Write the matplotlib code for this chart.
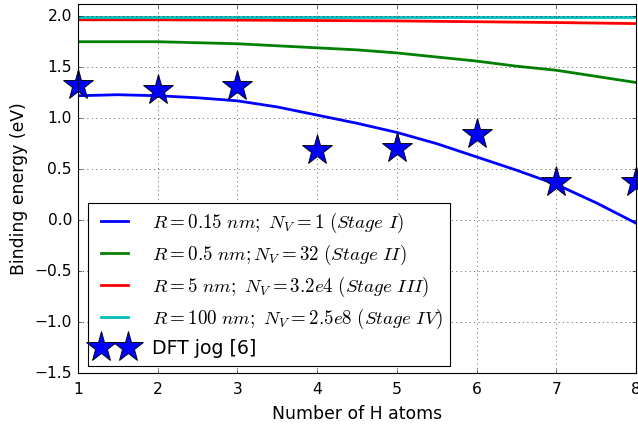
import matplotlib
matplotlib.use("Agg")
import matplotlib.pyplot as plt

plt.style.use('classic')

# Data
x_curve = [1, 1.5, 2, 2.5, 3, 3.5, 4, 4.5, 5, 5.5, 6, 6.5, 7, 7.5, 8]
blue = [1.22, 1.23, 1.22, 1.20, 1.17, 1.11, 1.03, 0.95, 0.86, 0.75, 0.62, 0.49, 0.35, 0.17, -0.03]
green = [1.75, 1.75, 1.75, 1.74, 1.73, 1.71, 1.69, 1.67, 1.64, 1.60, 1.56, 1.51, 1.47, 1.41, 1.35]
red = [1.965, 1.965, 1.965, 1.963, 1.962, 1.960, 1.958, 1.956, 1.954, 1.950, 1.946, 1.942, 1.938, 1.933, 1.928]
cyan = [1.99] * 15

x_dft = [1, 2, 3, 4, 5, 6, 7, 8]
y_dft = [1.33, 1.28, 1.32, 0.69, 0.71, 0.84, 0.37, 0.37]

labels = [r'$R=0.15\ nm;\ N_V=1\ (Stage\ I)$',
          r'$R=0.5\ nm;N_V=32\ (Stage\ II)$',
          r'$R=5\ nm;\ N_V=3.2e4\ (Stage\ III)$',
          r'$R=100\ nm;\ N_V=2.5e8\ (Stage\ IV)$',
          'DFT jog [6]']

fig = plt.figure(figsize=(638/80, 427/80), dpi=80, facecolor='white')
ax = fig.add_axes([78/638, 54/427, 558/638, 369/427])
ax.set_facecolor('white')

ax.plot(x_curve, blue, color='b', lw=2.5, label=labels[0])
ax.plot(x_curve, green, color='g', lw=2.5, label=labels[1])
ax.plot(x_curve, red, color='r', lw=2.5, label=labels[2])
ax.plot(x_curve, cyan, color='c', lw=2.5, label=labels[3])
ax.plot(x_dft, y_dft, linestyle='none', marker='*', markersize=28,
        markerfacecolor='b', markeredgecolor='k', markeredgewidth=0.8,
        label=labels[4], clip_on=False)

ax.set_xlim(1, 8)
ax.set_ylim(-1.5, 2.12)
ax.set_yticks([-1.5, -1.0, -0.5, 0.0, 0.5, 1.0, 1.5, 2.0])
ax.grid(True)
ax.tick_params(axis='both', labelsize=14)
ax.tick_params(axis='x', pad=8)
ax.tick_params(axis='y', pad=5.5)
ax.set_xlabel('Number of H atoms', fontsize=15.5, labelpad=7)
ax.set_ylabel('Binding energy (eV)', fontsize=15.5, labelpad=6)

leg = ax.legend(loc='lower left', bbox_to_anchor=(0.018, 0.02), borderaxespad=0,
                numpoints=2, fontsize=17, labelspacing=0.42, handletextpad=1.0)

fig.savefig('out.png', dpi=80, facecolor='white')
